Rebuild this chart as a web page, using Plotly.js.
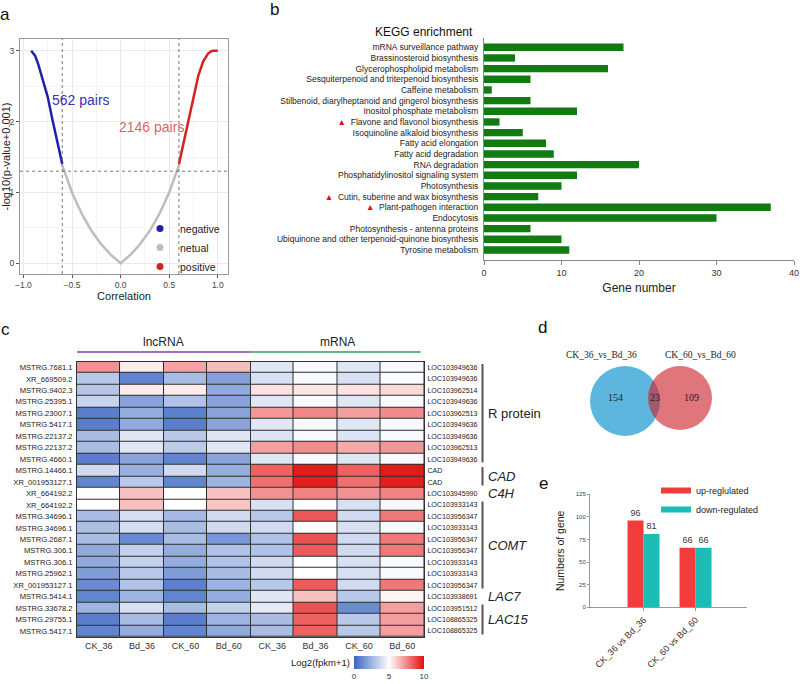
<!DOCTYPE html>
<html><head><meta charset="utf-8">
<script src="https://cdn.plot.ly/plotly-3.0.1.min.js"></script>
<style>html,body{margin:0;padding:0;background:#fff}#chart{width:800px;height:684px}</style>
</head><body><div id="chart"></div>
<script>
// ---------- Panel a : correlation vs -log10(p) ----------
const negCorr  = [-0.92,-0.9,-0.88,-0.85,-0.8,-0.75,-0.7,-0.65,-0.6];
const negLogP  = [3.0, 2.97, 2.93, 2.82, 2.6, 2.35, 2.02, 1.72, 1.4];
const neutCorr = [-0.6,-0.5,-0.4,-0.3,-0.2,-0.1,0,0.1,0.2,0.3,0.4,0.5,0.6];
const neutLogP = [1.38,1.0,0.7,0.46,0.27,0.12,0,0.12,0.27,0.46,0.7,1.0,1.38];
const posCorr  = [0.6,0.65,0.7,0.75,0.8,0.85,0.9,0.93,0.95,0.98,1.0];
const posLogP  = [1.4,1.72,2.05,2.38,2.65,2.85,2.96,2.99,3.0,3.0,3.0];
const corrCut  = [-0.6, 0.6];
const logPCut  = 1.3;
const pairText = ['562 pairs', '2146 pairs'];
const pairPosX = [-0.41, 0.32];
const pairPosY = [2.3, 1.92];
const classNames = ['negative', 'netual', 'positive'];

// ---------- Panel b : KEGG enrichment ----------
const keggTerms = [
  'mRNA surveillance pathway','Brassinosteroid biosynthesis','Glycerophospholipid metabolism',
  'Sesquiterpenoid and triterpenoid biosynthesis','Caffeine metabolism',
  'Stilbenoid, diarylheptanoid and gingerol biosynthesis','Inositol phosphate metabolism',
  'Flavone and flavonol biosynthesis','Isoquinoline alkaloid biosynthesis','Fatty acid elongation',
  'Fatty acid degradation','RNA degradation','Phosphatidylinositol signaling system','Photosynthesis',
  'Cutin, suberine and wax biosynthesis','Plant-pathogen interaction','Endocytosis',
  'Photosynthesis - antenna proteins','Ubiquinone and other terpenoid-quinone biosynthesis','Tyrosine metabolism'];
const keggCounts = [18,4,16,6,1,6,12,2,5,8,9,20,12,10,7,37,30,6,10,11];
const keggMarked = ['Flavone and flavonol biosynthesis','Cutin, suberine and wax biosynthesis','Plant-pathogen interaction'];

// ---------- Panel c : heatmap ----------
const sampleLabels = ['CK_36','Bd_36','CK_60','Bd_60'];
const lncNames = ['MSTRG.7681.1','XR_669509.2','MSTRG.9402.3','MSTRG.25395.1','MSTRG.23007.1','MSTRG.5417.1',
  'MSTRG.22137.2','MSTRG.22137.2','MSTRG.4660.1','MSTRG.14466.1','XR_001953127.1','XR_664192.2','XR_664192.2',
  'MSTRG.34696.1','MSTRG.34696.1','MSTRG.2687.1','MSTRG.306.1','MSTRG.306.1','MSTRG.25962.1','XR_001953127.1',
  'MSTRG.5414.1','MSTRG.33678.2','MSTRG.29755.1','MSTRG.5417.1'];
const mrnaNames = ['LOC103949636','LOC103949636','LOC103962514','LOC103949636','LOC103962513','LOC103949636',
  'LOC103949636','LOC103962513','LOC103949636','CAD','CAD','LOC103945990','LOC103933143','LOC103956347',
  'LOC103933143','LOC103956347','LOC103956347','LOC103933143','LOC103933143','LOC103956347','LOC103938691',
  'LOC103951512','LOC108865325','LOC108865325'];
const lncExpr = [
  [7.3,5.4,6.9,6.4],[3.2,1.0,2.8,1.9],[3.1,5.4,5.4,2.2],[3.6,2.0,3.0,2.0],[0.8,2.3,0.9,2.0],[0.8,2.2,0.8,2.0],
  [2.8,4.2,3.2,4.2],[2.8,4.2,3.3,4.2],[0.8,2.0,1.0,2.0],[3.8,2.4,3.8,2.3],[1.0,3.2,1.0,2.5],[5.0,6.3,5.0,6.3],
  [5.0,6.3,5.0,6.2],[2.8,3.9,2.7,3.8],[2.9,3.9,2.8,3.8],[2.8,1.2,2.8,1.6],[2.2,3.5,2.3,3.0],[2.2,3.5,2.3,3.0],
  [1.8,3.2,1.8,2.8],[1.2,3.0,0.9,2.5],[1.0,2.5,1.0,2.3],[2.5,4.0,2.8,3.5],[0.8,2.8,0.8,2.5],[1.0,2.3,1.0,2.2]];
const mrnaExpr = [
  [4.2,4.8,4.2,4.8],[4.0,4.8,4.0,4.9],[5.6,5.5,5.6,5.8],[4.2,4.8,4.2,4.8],[7.2,7.5,7.0,7.4],[4.2,4.8,4.2,4.8],
  [4.1,4.8,4.1,4.8],[7.0,7.4,6.8,7.2],[4.2,4.8,4.2,4.8],[8.3,9.8,8.3,9.8],[8.0,9.7,8.0,9.7],[7.3,7.6,7.3,7.6],
  [4.0,5.0,4.0,4.8],[3.2,8.5,3.8,7.8],[3.8,5.0,4.0,4.8],[3.0,8.6,3.8,7.8],[3.0,8.4,3.8,7.8],[3.8,5.0,4.0,4.8],
  [3.8,5.0,4.0,4.8],[3.2,8.4,3.8,7.8],[4.2,6.3,3.2,5.2],[4.3,8.6,1.2,7.0],[2.8,8.3,3.2,7.0],[2.8,8.3,3.2,7.0]];
const groupNames  = ['R protein','CAD','C4H','COMT','LAC7','LAC15'];
const groupFirst  = [0, 9, 11, 12, 20, 21];
const groupLast   = [8, 10, 11, 19, 20, 23];
const groupItalic = [false, true, true, true, true, true];

// ---------- Panel d : Venn ----------
const vennSets   = ['CK_36_vs_Bd_36', 'CK_60_vs_Bd_60'];
const vennCounts = [154, 23, 109];   // only set 1, shared, only set 2

// ---------- Panel e : DEG counts ----------
const comparisons = ['CK_36 vs Bd_36', 'CK_60 vs Bd_60'];
const upCounts    = [96, 66];
const downCounts  = [81, 66];
const regNames    = ['up-reglulated', 'down-regulated'];

// ======================= layout helpers =======================
const W = 800, H = 684;
const px = v => v / W, py = v => 1 - v / H;
const FONT = 'Arial, "Liberation Sans", sans-serif';
const SERIF = '"Liberation Serif", "Times New Roman", serif';
const idx = arr => arr.map((_, i) => i);

const traces = [];
// --- a
traces.push({type:'scatter', mode:'lines', x: neutCorr, y: neutLogP, xaxis:'x', yaxis:'y',
  line:{color:'#bdbdbd', width:2.5}, showlegend:false, hoverinfo:'skip'});
traces.push({type:'scatter', mode:'lines', x: negCorr, y: negLogP, xaxis:'x', yaxis:'y',
  line:{color:'#1f22a8', width:2.5}, showlegend:false, hoverinfo:'skip'});
traces.push({type:'scatter', mode:'lines', x: posCorr, y: posLogP, xaxis:'x', yaxis:'y',
  line:{color:'#d42222', width:2.5}, showlegend:false, hoverinfo:'skip'});
const classColors = ['#1f22a8', '#bdbdbd', '#d42222'];
classNames.forEach((n, i) => traces.push({type:'scatter', mode:'markers', x:[null], y:[null],
  xaxis:'x', yaxis:'y', name:n, marker:{color:classColors[i], size:7}, legend:'legend'}));

// --- b
const keggTick = keggTerms.map(t => keggMarked.includes(t)
  ? '<span style="color:#e01010">\u25B2</span>\u00a0\u00a0' + t : t);
traces.push({type:'bar', orientation:'h', x: keggCounts, y: idx(keggTerms), xaxis:'x2', yaxis:'y2',
  marker:{color:'#117a11'}, width:0.69, showlegend:false, hoverinfo:'skip'});

// --- c
const cscale = [[0,'#3a66c2'],[0.5,'#ffffff'],[1,'#e3100f']];
traces.push({type:'heatmap', z: lncExpr, x: sampleLabels, y: idx(lncNames), xaxis:'x3', yaxis:'y3',
  colorscale: cscale, zmin:0, zmax:10, xgap:1, ygap:1, showscale:false, hoverinfo:'skip'});
traces.push({type:'heatmap', z: mrnaExpr, x: sampleLabels, y: idx(mrnaNames), xaxis:'x4', yaxis:'y4',
  colorscale: cscale, zmin:0, zmax:10, xgap:1, ygap:1, showscale:true, hoverinfo:'skip',
  colorbar:{orientation:'h', x: px(389), xanchor:'center', y: py(656), yanchor:'top',
    len:70, lenmode:'pixels', thickness:13, outlinewidth:0, xpad:0, ypad:0,
    tickvals:[0,5,10], ticks:'', tickfont:{size:8, color:'#333', family:FONT}}});

// --- e
traces.push({type:'bar', x: comparisons, y: upCounts, xaxis:'x6', yaxis:'y6', name: regNames[0],
  marker:{color:'#f23b3b'}, text: upCounts.map(String), textposition:'outside', cliponaxis:false,
  textfont:{size:9, color:'#333'}, showlegend:false, hoverinfo:'skip'});
traces.push({type:'bar', x: comparisons, y: downCounts, xaxis:'x6', yaxis:'y6', name: regNames[1],
  marker:{color:'#1dbcb7'}, text: downCounts.map(String), textposition:'outside', cliponaxis:false,
  textfont:{size:9, color:'#333'}, showlegend:false, hoverinfo:'skip'});
const regColors = ['#f23b3b', '#1dbcb7'];
regNames.forEach((n, i) => traces.push({type:'scatter', mode:'lines', x:[null], y:[null],
  xaxis:'x6', yaxis:'y6', name:n, line:{color:regColors[i], width:6}, legend:'legend2'}));

// ======================= shapes & annotations =======================
const shapes = [];
const ann = [];
// panel letters
[['a',5,15],['b',274,10],['c',5,329],['d',542,327],['e',543,483]].forEach(([t,x,y]) =>
  ann.push({text:t, xref:'paper', yref:'paper', x:px(x), y:py(y), xanchor:'center', yanchor:'middle',
    showarrow:false, font:{size:17, color:'#111', family:FONT}}));

// a: threshold lines
corrCut.forEach(c => shapes.push({type:'line', xref:'x', yref:'y domain', x0:c, x1:c, y0:0, y1:1,
  line:{color:'#777', width:1, dash:'dot'}}));
shapes.push({type:'line', xref:'x domain', yref:'y', x0:0, x1:1, y0:logPCut, y1:logPCut,
  line:{color:'#777', width:1, dash:'dot'}});
const pairColors = ['#3434b4', '#e06464'];
pairText.forEach((t, i) => ann.push({text:t, xref:'x', yref:'y', x:pairPosX[i], y:pairPosY[i],
  showarrow:false, font:{size:14, color:pairColors[i], family:FONT}}));

// b: title
ann.push({text:'KEGG enrichment', xref:'paper', yref:'paper', x:px(424), y:py(23), showarrow:false,
  font:{size:12, color:'#111', family:FONT}});

// c: dark cell-border backgrounds
['3','4'].forEach(k => shapes.push({type:'rect', xref:'x'+k+' domain', yref:'y'+k+' domain',
  x0:0, x1:1, y0:0, y1:1, layer:'below', line:{width:0}, fillcolor:'#2e2e2e'}));
// c: headers
[['3','lncRNA','#7a3fa3'],['4','mRNA','#2f9a5c']].forEach(([k,t,c]) => {
  shapes.push({type:'line', xref:'x'+k+' domain', yref:'paper', x0:0, x1:(k==='4'?0.98:1),
    y0:py(352), y1:py(352), line:{color:c, width:1.5}});
  ann.push({text:t, xref:'x'+k+' domain', yref:'paper', x:0.5, y:py(342), showarrow:false,
    font:{size:12, color:'#222', family:FONT}});
});
// c: gene group brackets and labels
groupNames.forEach((g, i) => {
  if (groupLast[i] > groupFirst[i]) shapes.push({type:'line', xref:'paper', yref:'y4',
    x0:px(482.5), x1:px(482.5), y0:groupFirst[i]-0.3, y1:groupLast[i]+0.3,
    line:{color:'#555', width:2}});
  ann.push({text: groupItalic[i] ? '<i>'+g+'</i>' : g, xref:'paper', yref:'y4',
    x:px(486), y:(groupFirst[i]+groupLast[i])/2, xanchor:'left', yanchor:'middle', showarrow:false,
    font:{size:13, color:'#222', family:FONT}});
});
ann.push({text:'Log2(fpkm+1)', xref:'paper', yref:'paper', x:px(352), y:py(662), xanchor:'right',
  yanchor:'middle', showarrow:false, font:{size:9.5, color:'#222', family:FONT}});

// d: Venn (drawn on a 1px-per-unit helper axis)
const vennCX = [65, 120], vennCY = [49, 52], vennR = [35, 32];
const vennFill = ['#5cb6de', 'rgba(205,32,42,0.62)'];
vennCX.forEach((cx, i) => shapes.push({type:'circle', xref:'x5', yref:'y5', layer:'below',
  x0:cx-vennR[i], x1:cx+vennR[i], y0:vennCY[i]-vennR[i], y1:vennCY[i]+vennR[i],
  fillcolor:vennFill[i], line:{width:0}}));
const vennLabelX = [41, 140];
vennSets.forEach((s, i) => ann.push({text:s, xref:'x5', yref:'y5', x:vennLabelX[i], y:95,
  showarrow:false, font:{size:9.5, color:'#222', family:SERIF}}));
const vennNumX = [55.5, 95, 131.5];
vennCounts.forEach((c, i) => ann.push({text:String(c), xref:'x5', yref:'y5', x:vennNumX[i], y:52,
  showarrow:false, font:{size:10, color:'#222', family:SERIF}}));

// ======================= axes =======================
const gridA = {showgrid:true, gridcolor:'#e9e9e9', gridwidth:1, zeroline:false, showline:true,
  mirror:true, linecolor:'#9a9a9a', linewidth:1, ticks:'outside', ticklen:3, tickcolor:'#555',
  tickfont:{size:8.5, color:'#444', family:FONT}};
const layout = {
  width:W, height:H, margin:{l:0, r:0, t:0, b:0}, paper_bgcolor:'#fff', plot_bgcolor:'#fff',
  font:{family:FONT, color:'#222'}, barmode:'group', bargap:0.385, bargroupgap:0,
  xaxis: Object.assign({}, gridA, {domain:[px(20), px(228)], range:[-1.035, 1.105], anchor:'y',
    tick0:-1, dtick:0.5, tickformat:'.1f', minor:{dtick:0.25, showgrid:true, gridcolor:'#f4f4f4'},
    title:{text:'Correlation', font:{size:11, color:'#222'}, standoff:2}}),
  yaxis: Object.assign({}, gridA, {domain:[py(274), py(39)], range:[-0.15, 3.165], anchor:'x',
    dtick:1, minor:{dtick:0.5, showgrid:true, gridcolor:'#f4f4f4'},
    title:{text:'-log10(p-value+0.001)', font:{size:11, color:'#222'}, standoff:2}}),
  xaxis2: {domain:[px(484), px(794)], range:[0, 40], dtick:10, anchor:'y2', showgrid:false,
    zeroline:false, showline:true, linecolor:'#888', ticks:'outside', ticklen:4, tickcolor:'#888',
    tickfont:{size:9, color:'#333'}, title:{text:'Gene number', font:{size:12, color:'#222'}, standoff:6}},
  yaxis2: {domain:[py(260), py(38)], range:[19.94, -0.87], anchor:'x2', tickvals: idx(keggTerms),
    ticktext: keggTick, showgrid:false, zeroline:false, showline:true, linecolor:'#888', ticks:'',
    ticklabelstandoff:3, tickfont:{size:8.5, color:'#222'}},
  xaxis3: {domain:[px(77), px(250.5)], anchor:'y3', showgrid:false, zeroline:false, showline:true,
    mirror:true, linecolor:'#333', ticks:'', tickfont:{size:9, color:'#333'}},
  yaxis3: {domain:[py(636.7), py(361.7)], range:[23.5, -0.5], anchor:'x3', tickvals: idx(lncNames),
    ticktext: lncNames, showgrid:false, zeroline:false, showline:true, mirror:true, linecolor:'#333',
    ticks:'', ticklabelstandoff:2, tickfont:{size:7.6, color:'#222'}},
  xaxis4: {domain:[px(250.5), px(424)], anchor:'y4', showgrid:false, zeroline:false, showline:true,
    mirror:true, linecolor:'#333', ticks:'', tickfont:{size:9, color:'#333'}},
  yaxis4: {domain:[py(636.7), py(361.7)], range:[23.5, -0.5], anchor:'x4', side:'right',
    tickvals: idx(mrnaNames), ticktext: mrnaNames, showgrid:false, zeroline:false, showline:true,
    mirror:true, linecolor:'#333', ticks:'', ticklabelstandoff:1, tickfont:{size:7.1, color:'#222'}},
  xaxis5: {domain:[px(560), px(760)], range:[0, 200], anchor:'y5', visible:false, fixedrange:true},
  yaxis5: {domain:[py(450), py(340)], range:[0, 110], anchor:'x5', visible:false, fixedrange:true},
  xaxis6: {domain:[px(590), px(747)], range:[-1.03, 1.99], anchor:'y6', showgrid:false, zeroline:false,
    showline:true, linecolor:'#999', ticks:'outside', ticklen:3, tickcolor:'#999', tickangle:-45,
    tickfont:{size:9, color:'#333'}},
  yaxis6: {domain:[py(607.3), py(494.3)], range:[0, 125], dtick:25, anchor:'x6', showgrid:false,
    zeroline:false, showline:true, linecolor:'#999', ticks:'outside', ticklen:2, tickcolor:'#999',
    tickfont:{size:6, color:'#444'}, title:{text:'Numbers of gene', font:{size:10.5, color:'#222'}, standoff:9}},
  legend: {x:px(140), y:py(214), xanchor:'left', yanchor:'top', bgcolor:'rgba(0,0,0,0)',
    font:{size:10.5, color:'#222'}, itemwidth:30, tracegroupgap:0},
  legend2: {x:px(656), y:py(476), xanchor:'left', yanchor:'top', bgcolor:'rgba(0,0,0,0)',
    font:{size:9, color:'#222'}, itemwidth:30, tracegroupgap:0},
  shapes: shapes, annotations: ann
};
Plotly.newPlot('chart', traces, layout, {staticPlot:true, displayModeBar:false});
</script></body></html>
